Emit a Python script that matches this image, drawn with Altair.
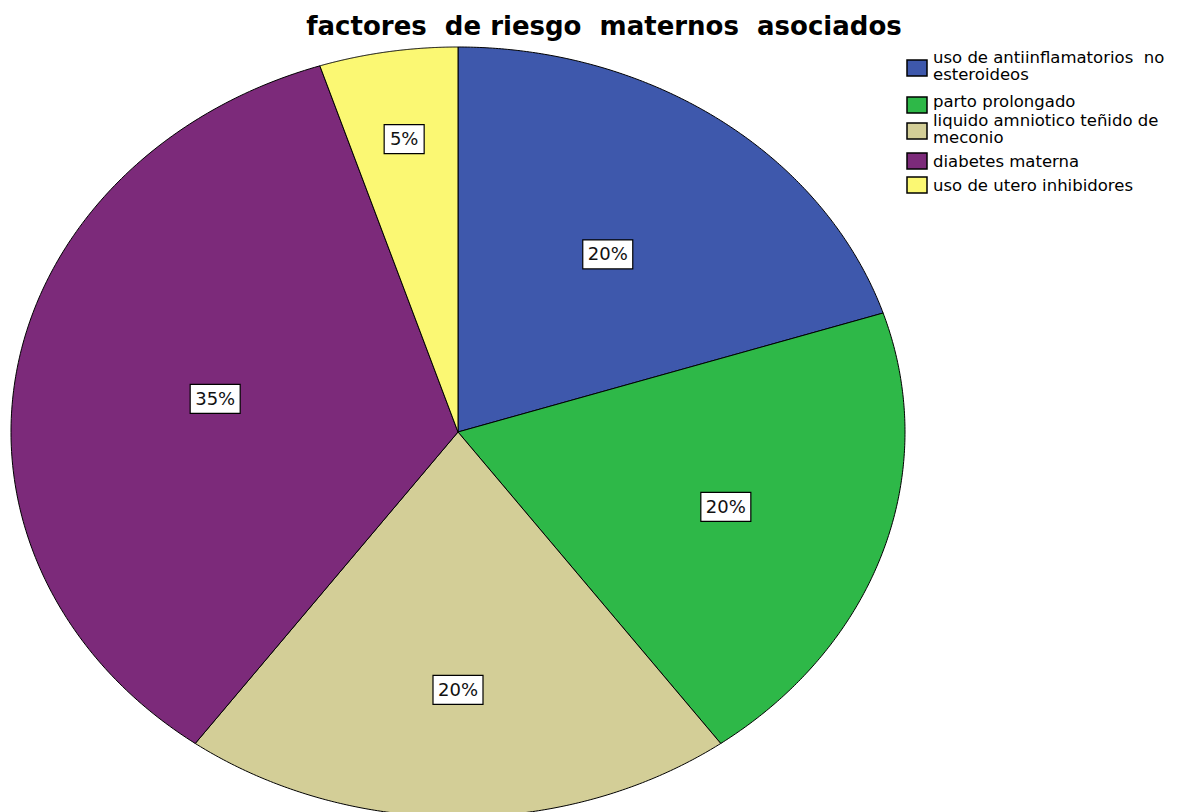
import altair as alt
import pandas as pd

# ---- data -------------------------------------------------------------
FACTORS = [
    "uso de antiinflamatorios no esteroideos",
    "parto prolongado",
    "liquido amniotico teñido de meconio",
    "diabetes materna",
    "uso de utero inhibidores",
]
PERCENTS = [20, 20, 20, 35, 5]
COLORS = ["#3E58AC", "#2EB848", "#D3CE97", "#7C2A7A", "#FBF873"]
NBSP = "\u00a0"
LEGEND_LINES = [
    ["uso de antiinflamatorios " + NBSP + "no", "esteroideos"],
    ["parto prolongado"],
    ["liquido amniotico teñido de", "meconio"],
    ["diabetes materna"],
    ["uso de utero inhibidores"],
]
TITLE = f"factores {NBSP}de riesgo {NBSP}maternos {NBSP}asociados"

# ---- layout -----------------------------------------------------------
W, H = 1192, 812
CX, CY, RX, RY = 458, 432, 447, 385          # pie centre and radii (px)
LABEL_RADIUS = [0.57, 0.63, 0.67, 0.55, 0.77]  # label distance, fraction of radius
STEPS = 180                                    # arc resolution per slice
LEGEND_SQ_TOP = [60, 97, 123, 153, 177]
LEGEND_BASELINES = [[63, 80], [107], [126, 143], [167], [191]]

x_scale = alt.Scale(domain=[-CX / RX, (W - CX) / RX], nice=False, zero=False)
y_scale = alt.Scale(domain=[(CY - H) / RY, CY / RY], nice=False, zero=False)
px_scale = alt.Scale(domain=[0, H], range=[0, H], nice=False, zero=False)
color_scale = alt.Scale(domain=FACTORS, range=COLORS)

slices = pd.DataFrame({
    "factor": FACTORS,
    "pct": PERCENTS,
    "idx": list(range(len(FACTORS))),
    "lr": LABEL_RADIUS,
    "step": [list(range(-1, STEPS + 1)) for _ in FACTORS],
})

base = (
    alt.Chart(slices)
    .transform_window(cum_end="sum(pct)", sort=[alt.SortField("idx")], frame=[None, 0])
    .transform_joinaggregate(total="sum(pct)")
    .transform_calculate(cum_start="datum.cum_end - datum.pct")
)

# slices: closed outlines from the centre around each arc, filled
pie = (
    base.transform_flatten(["step"])
    .transform_calculate(
        theta=f"2 * PI * (datum.cum_start + max(datum.step, 0) / {STEPS} * datum.pct) / datum.total"
    )
    .transform_calculate(
        ux="datum.step < 0 ? 0 : sin(datum.theta)",
        uy="datum.step < 0 ? 0 : cos(datum.theta)",
    )
    .mark_line(interpolate="linear-closed", filled=True, stroke="black",
               strokeWidth=1, clip=True, strokeJoin="round")
    .encode(
        x=alt.X("ux:Q", scale=x_scale, axis=None),
        y=alt.Y("uy:Q", scale=y_scale, axis=None),
        fill=alt.Fill("factor:N", scale=color_scale, legend=None),
        detail="factor:N",
        order=alt.Order("step:Q"),
    )
)

lab = base.transform_calculate(
    mid="2 * PI * (datum.cum_end - datum.pct / 2) / datum.total",
    label="datum.pct + '%'",
).transform_calculate(
    lx="datum.lr * sin(datum.mid)",
    ly="datum.lr * cos(datum.mid)",
)
lab_enc = dict(
    x=alt.X("lx:Q", scale=x_scale, axis=None),
    y=alt.Y("ly:Q", scale=y_scale, axis=None),
)

box_wide = lab.transform_filter("length(datum.label) > 2").mark_rect(
    width=50, height=29, fill="white", stroke="black", strokeWidth=1.2
).encode(**lab_enc)
box_narrow = lab.transform_filter("length(datum.label) <= 2").mark_rect(
    width=40, height=29, fill="white", stroke="black", strokeWidth=1.2
).encode(**lab_enc)
lab_text = lab.mark_text(
    font="DejaVu Sans", fontSize=18, color="#111111", align="center", baseline="middle", dy=1
).encode(text="label:N", **lab_enc)

# title
title = alt.Chart(pd.DataFrame({"t": [TITLE]})).mark_text(
    font="DejaVu Sans", fontSize=26, fontWeight="bold", color="black",
    align="center", baseline="alphabetic"
).encode(x=alt.value(604), y=alt.value(35), text="t:N")

# legend
leg_sq = pd.DataFrame({
    "factor": FACTORS,
    "y1": LEGEND_SQ_TOP,
    "y2": [t + 16 for t in LEGEND_SQ_TOP],
})
legend_boxes = alt.Chart(leg_sq).mark_rect(stroke="black", strokeWidth=1.5).encode(
    x=alt.value(907), x2=alt.value(927),
    y=alt.Y("y1:Q", scale=px_scale, axis=None), y2="y2:Q",
    fill=alt.Fill("factor:N", scale=color_scale, legend=None),
)
rows = []
for lines, bases in zip(LEGEND_LINES, LEGEND_BASELINES):
    for line, b in zip(lines, bases):
        rows.append({"line": line, "ty": b})
legend_text = alt.Chart(pd.DataFrame(rows)).mark_text(
    font="DejaVu Sans", fontSize=16.5, color="black", align="left", baseline="alphabetic"
).encode(x=alt.value(933), y=alt.Y("ty:Q", scale=px_scale, axis=None), text="line:N")

chart = (
    alt.layer(pie, box_wide, box_narrow, lab_text, title, legend_boxes, legend_text)
    .resolve_scale(x="independent", y="independent", fill="shared")
    .properties(width=W, height=H, autosize=alt.AutoSizeParams(type="none"),
                padding=0, background="white")
    .configure_view(stroke=None)
)

chart.save("out.html", embed_options={"renderer": "svg", "actions": False})
